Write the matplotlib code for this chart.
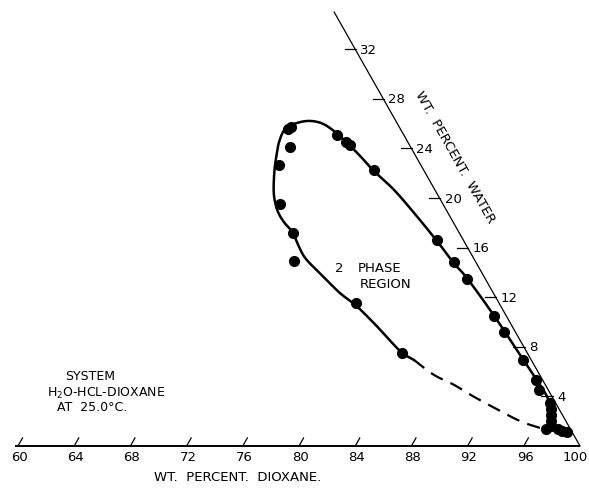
import numpy as np
import matplotlib
matplotlib.use('Agg')
import matplotlib.pyplot as plt
from matplotlib.transforms import Affine2D

# Measured compositions (wt. % dioxane, wt. % water), balance is HCl
pt_dioxane = [66.4, 66.6, 67.3, 67.2, 68.9, 71.0, 72.2, 70.2, 71.1, 71.5,
              74.2, 78.3, 83.6, 81.5, 83.6, 85.2, 88.6, 90.0, 92.5, 94.25,
              94.8, 96.1, 96.4, 96.7, 96.9, 97.15, 96.9, 97.7, 98.1, 98.5]
pt_water = [25.6, 25.7, 24.1, 22.7, 19.5, 17.2, 14.9, 25.05, 24.5, 24.3,
            22.25, 11.5, 7.5, 16.6, 14.8, 13.5, 10.5, 9.2, 6.95, 5.3,
            4.5, 3.5, 3.0, 2.5, 2.0, 1.6, 1.35, 1.4, 1.25, 1.1]

# Binodal curve (solid part), traced from the lower end round to the right side
curve_dioxane = [84.69, 83.42, 80.74, 78.49, 76.77, 74.87, 73.02, 72.10, 70.95,
                 69.99, 69.18, 68.48, 67.85, 67.11, 66.65, 66.31, 66.21, 66.59,
                 67.44, 68.45, 69.56, 71.18, 72.67, 74.18, 76.39, 78.75, 81.51,
                 83.63, 85.21, 88.63, 92.49, 94.25, 95.89, 97.06, 98.34]
curve_water = [6.95, 7.62, 9.64, 11.26, 12.32, 13.68, 15.03, 15.92, 17.21,
               17.98, 18.75, 19.64, 20.69, 22.30, 23.52, 24.57, 25.54, 25.94,
               26.21, 26.08, 25.54, 24.46, 23.38, 22.22, 20.69, 18.83, 16.57,
               14.76, 13.52, 10.51, 6.95, 5.33, 3.72, 1.86, 1.16]

# Estimated (dashed) part of the curve
dash_dioxane = [84.69, 86.73, 88.57, 90.49, 92.73, 94.86, 96.98]
dash_water = [6.95, 5.74, 4.93, 3.96, 2.91, 1.96, 1.29]

dioxane_ticks = [60, 64, 68, 72, 76, 80, 84, 88, 92, 96, 100]
water_ticks = [4, 8, 12, 16, 20, 24, 28, 32]
water_top = 35


def smooth(d, w, n=10):
    # Catmull-Rom pass through the traced vertices so the line has no corners
    p = np.column_stack([d, w]).astype(float)
    p = np.vstack([2 * p[0] - p[1], p, 2 * p[-1] - p[-2]])
    t = np.linspace(0, 1, n, endpoint=False)[:, None]
    out = []
    for i in range(1, len(p) - 2):
        p0, p1, p2, p3 = p[i - 1], p[i], p[i + 1], p[i + 2]
        seg = 0.5 * ((2 * p1) + (-p0 + p2) * t
                     + (2 * p0 - 5 * p1 + 4 * p2 - p3) * t ** 2
                     + (-p0 + 3 * p1 - 3 * p2 + p3) * t ** 3)
        out.append(seg)
    out.append(p[-2][None, :])
    out = np.vstack(out)
    return out[:, 0], out[:, 1]


plt.rcParams['font.family'] = 'DejaVu Sans'

fig = plt.figure(figsize=(5.89, 4.89), dpi=100)
ax = fig.add_axes([0, 0, 1, 1])
ax.set_xlim(58.72, 100.64)
ax.set_ylim(-3.387, 36.05)
ax.axis('off')

# triangular coordinates: x = dioxane + water/2, y = water
tern = Affine2D().from_values(1, 0, 0.5, 1, 0, 0) + ax.transData

# dioxane axis (water = 0)
ax.plot([59.8, 100], [0, 0], color='black', lw=1.4, transform=tern,
        solid_capstyle='butt')
for d in dioxane_ticks[:-1]:
    ax.plot([d, d], [0.1, 0.65], color='black', lw=0.9, transform=tern)
for d in dioxane_ticks:
    dx = -3.5 if d == 100 else 1
    ax.annotate(str(d), xy=(d, 0), xycoords=tern, xytext=(dx, -7.5),
                textcoords='offset points', ha='center', va='center',
                fontsize=9.5)

# water axis (HCl = 0)
ax.plot([100, 100 - water_top], [0, water_top], color='black', lw=0.9,
        transform=tern)
for w in water_ticks:
    ax.plot([100 - w - 0.75, 100 - w + 0.05], [w, w], color='black', lw=0.9,
            transform=tern)
    ax.annotate(str(w), xy=(100 - w, w), xycoords=tern, xytext=(3.6, 0),
                textcoords='offset points', ha='left', va='center',
                fontsize=9.5)

# binodal curve and data points
sd, sw = smooth(curve_dioxane, curve_water)
ax.plot(sd, sw, color='black', lw=1.8, transform=tern, solid_joinstyle='round')
sd, sw = smooth(dash_dioxane, dash_water)
ax.plot(sd, sw, color='black', lw=1.6, transform=tern, dashes=(6, 3.8))
ax.plot(pt_dioxane, pt_water, 'o', color='black', ms=7, transform=tern)

fig.text(455 / 589, 1 - 157 / 489, 'WT.  PERCENT.  WATER', rotation=-60.5,
         rotation_mode='anchor', ha='center', va='center', fontsize=9.5)
fig.text(238 / 589, 1 - 478 / 489, 'WT.  PERCENT.  DIOXANE.', ha='center',
         va='center', fontsize=9.5)

fig.text(339 / 589, 1 - 269 / 489, '2', ha='center', va='center', fontsize=9.5)
fig.text(358 / 589, 1 - 269 / 489, 'PHASE', ha='left', va='center', fontsize=9.5)
fig.text(360 / 589, 1 - 284 / 489, 'REGION', ha='left', va='center', fontsize=9.5)

fig.text(65 / 589, 1 - 377 / 489, 'SYSTEM', ha='left', va='center', fontsize=9)
fig.text(47 / 589, 1 - 393 / 489, r'H$_2$O-HCL-DIOXANE', ha='left',
         va='center', fontsize=9)
fig.text(57 / 589, 1 - 408 / 489, 'AT  25.0°C.', ha='left', va='center',
         fontsize=9)

fig.savefig('out.png', dpi=100)
